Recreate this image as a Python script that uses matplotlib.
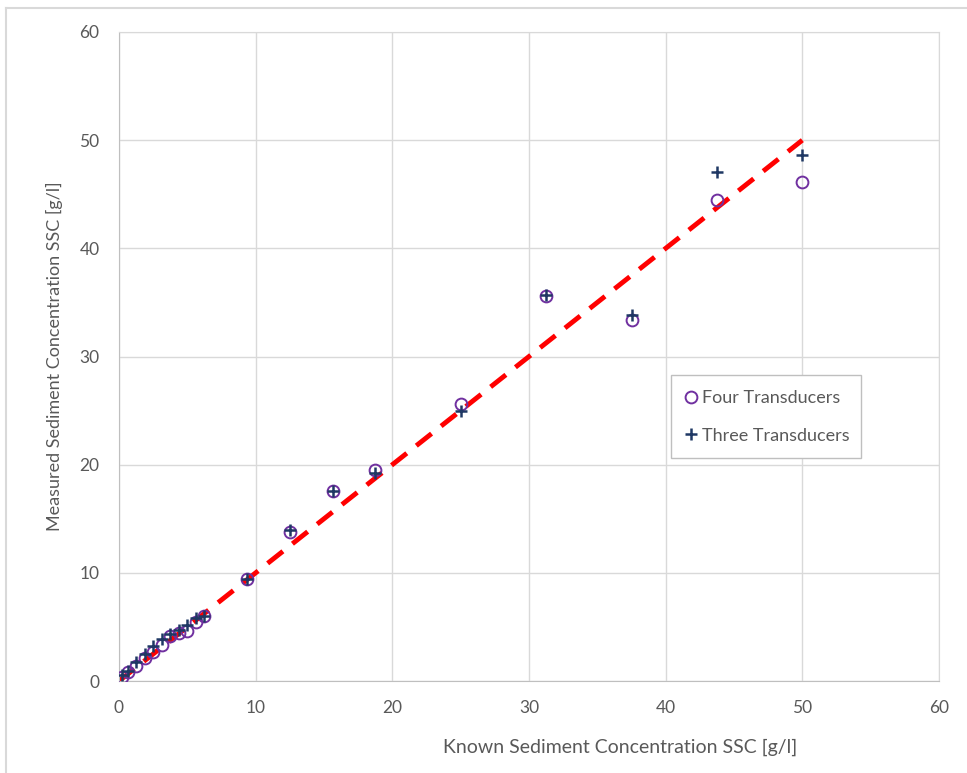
import matplotlib.pyplot as plt
from matplotlib.lines import Line2D

# known concentrations [g/l]
known = [0.2, 0.625, 1.25, 1.875, 2.5, 3.125, 3.75, 4.375, 5.0, 5.625, 6.25,
         9.375, 12.5, 15.625, 18.75, 25.0, 31.25, 37.5, 43.75, 50.0]
# measured with four transducers
four = [0.4, 0.8, 1.4, 2.1, 2.7, 3.3, 4.2, 4.4, 4.6, 5.5, 6.0,
        9.4, 13.8, 17.6, 19.5, 25.6, 35.6, 33.4, 44.5, 46.1]
# measured with three transducers
three = [0.6, 0.9, 1.8, 2.5, 3.2, 3.9, 4.3, 4.7, 5.2, 5.8, 6.0,
         9.4, 14.0, 17.6, 19.2, 25.0, 35.7, 33.8, 47.1, 48.6]
# 1:1 line
ref_x = [0, 50]
ref_y = [0, 50]

W, H = 967, 773
fig = plt.figure(figsize=(W/100, H/100), dpi=100)
plt.rcParams['font.family'] = ['Lato', 'DejaVu Sans']
grey = '#595959'

ax = fig.add_axes([119/W, 1-681/H, 820/W, 649/H])
ax.plot(ref_x, ref_y, color='red', lw=3.5, dashes=(4, 2.5), zorder=2)
ax.plot(known, four, 'o', ls='none', mfc='none', mec='#7030a0', ms=8.5, mew=1.4,
        zorder=3, label='Four Transducers')
ax.plot(known, three, '+', ls='none', color='#1f3864', ms=8.5, mew=1.8,
        zorder=4, label='Three Transducers')

ax.set_xlim(0, 60)
ax.set_ylim(0, 60)
ax.set_xticks(range(0, 61, 10))
ax.set_yticks(range(0, 61, 10))
ax.grid(True, color='#d9d9d9', lw=1)
ax.set_axisbelow(True)
for s in ax.spines.values():
    s.set_color('#d9d9d9')
ax.spines['left'].set_color('#bfbfbf')
ax.spines['bottom'].set_color('#bfbfbf')
ax.tick_params(length=0, labelsize=12.5, labelcolor=grey)
ax.tick_params(axis='x', pad=14)
ax.tick_params(axis='y', pad=14)

ax.set_ylabel('Measured Sediment Concentration SSC [g/l]', fontsize=13,
              color=grey, labelpad=12)
fig.text(620/W, 1-747/H, 'Known Sediment Concentration SSC [g/l]', fontsize=14,
         color=grey, ha='center', va='center')

leg = ax.legend(loc='lower left', bbox_to_anchor=(552/820, 223/649, 190/820, 86/649),
                mode='expand', fancybox=False, framealpha=1, edgecolor='#bfbfbf',
                fontsize=13, labelspacing=1.2, handlelength=0.6, handletextpad=0.3,
                borderpad=0.8, borderaxespad=0)
for t in leg.get_texts():
    t.set_color(grey)

# chart area border
fig.add_artist(Line2D([6/W, 6/W], [0, 1-8/H], color='#d9d9d9', lw=1.5))
fig.add_artist(Line2D([6/W, 1], [1-8/H, 1-8/H], color='#d9d9d9', lw=1.5))

fig.savefig('out.png', dpi=100)
